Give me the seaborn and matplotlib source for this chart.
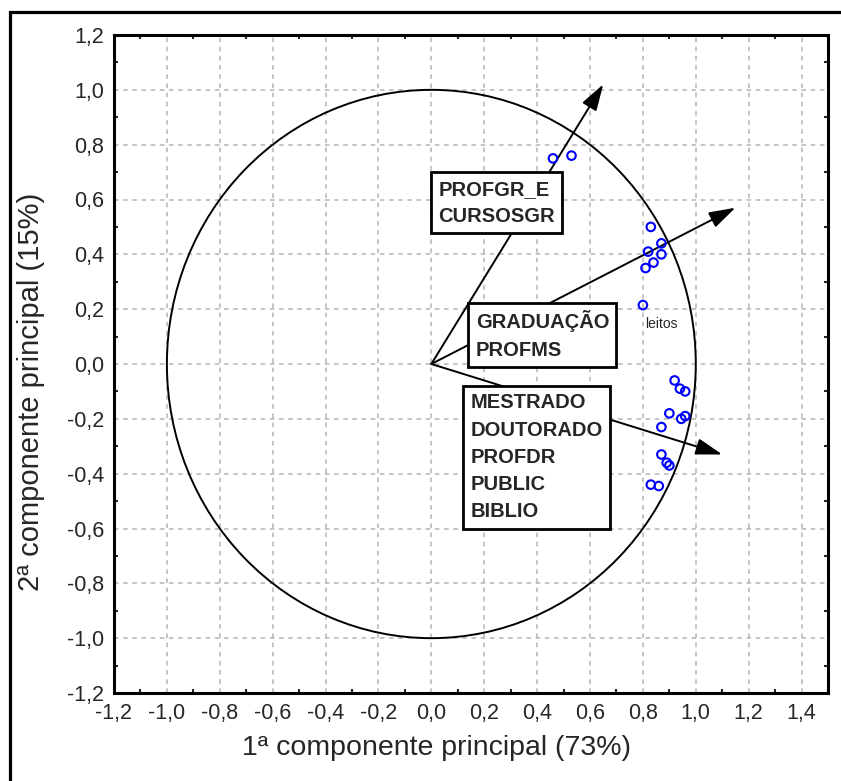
import numpy as np
import pandas as pd
import matplotlib
matplotlib.use("Agg")
import matplotlib.pyplot as plt
from matplotlib.patches import Circle, Rectangle
from matplotlib.ticker import MultipleLocator, FixedLocator
import seaborn as sns

# Loadings of the variables on the first two principal components
pc1 = [0.46, 0.53, 0.83, 0.87, 0.82, 0.87, 0.84, 0.81, 0.80,
       0.92, 0.94, 0.96, 0.90, 0.96, 0.945, 0.87, 0.87, 0.89, 0.90, 0.83, 0.86]
pc2 = [0.75, 0.76, 0.50, 0.44, 0.41, 0.40, 0.37, 0.35, 0.215,
       -0.06, -0.09, -0.10, -0.18, -0.19, -0.20, -0.23, -0.33, -0.36, -0.37, -0.44, -0.445]

# Group direction vectors and their labels
arrow_x = [0.65, 1.15, 1.10]
arrow_y = [1.02, 0.57, -0.33]
group_labels = ["PROFGR_E\nCURSOSGR", "GRADUAÇÃO\nPROFMS",
                "MESTRADO\nDOUTORADO\nPROFDR\nPUBLIC\nBIBLIO"]
label_x = [0.248, 0.420, 0.397]
label_y = [0.588, 0.106, -0.341]

point_label = "leitos"
point_label_xy = (0.869, 0.146)

xticks = np.round(np.arange(-1.2, 1.41, 0.2), 1)
yticks = np.round(np.arange(-1.2, 1.21, 0.2), 1)
xlabel = "1ª componente principal (73%)"
ylabel = "2ª componente principal (15%)"

sns.set_style("white")
plt.rcParams["font.family"] = ["Liberation Sans", "DejaVu Sans"]

fig = plt.figure(figsize=(8.41, 7.81), dpi=100)
ax = fig.add_axes([114 / 841, 1 - 693 / 781, (828 - 114) / 841, (693 - 35) / 781])

# outer frame of the figure
fig.patches.append(Rectangle((10 / 841, -0.1), 1.2, 1 - 12 / 781 + 0.1,
                             transform=fig.transFigure, fill=False,
                             lw=2.3, ec="black", zorder=0))

ax.set_xlim(-1.2, 1.5)
ax.set_ylim(-1.2, 1.2)

ax.xaxis.set_major_locator(FixedLocator(xticks))
ax.yaxis.set_major_locator(FixedLocator(yticks))
ax.xaxis.set_minor_locator(MultipleLocator(0.1))
ax.yaxis.set_minor_locator(MultipleLocator(0.1))
fmt = lambda v: f"{v:.1f}".replace(".", ",").replace("-0,0", "0,0")
ax.set_xticklabels([fmt(v) for v in xticks], fontsize=15.5)
ax.set_yticklabels([fmt(v) for v in yticks], fontsize=15.5)
ax.tick_params(which="major", direction="out", length=3, width=1.2, pad=4)
ax.tick_params(which="minor", direction="in", length=3, width=1.5,
               top=True, right=True, bottom=True, left=True)

ax.grid(True, which="major", color="#b4b4b4", ls=(0, (3, 3)), lw=1.1)
for s in ax.spines.values():
    s.set_linewidth(2.2)
    s.set_color("black")

# unit circle
ax.add_patch(Circle((0, 0), 1.0, fill=False, ec="black", lw=1.4, zorder=2))

# direction arrows
for x, y in zip(arrow_x, arrow_y):
    ax.annotate("", xy=(x, y), xytext=(0, 0),
                arrowprops=dict(arrowstyle="-|>,head_length=0.9,head_width=0.28",
                                mutation_scale=18, lw=1.4, color="black",
                                shrinkA=0, shrinkB=0),
                zorder=3)

# group labels in boxes
for t, x, y in zip(group_labels, label_x, label_y):
    ax.text(x, y, t, ha="center", va="center", multialignment="left",
            fontsize=14.5, fontweight="bold", linespacing=1.55, zorder=5,
            bbox=dict(boxstyle="square,pad=0.36", fc="white", ec="black", lw=2))

df = pd.DataFrame({"pc1": pc1, "pc2": pc2})
sns.scatterplot(data=df, x="pc1", y="pc2", ax=ax, marker="o", s=38,
                facecolor="none", edgecolor="blue", linewidth=1.5, zorder=4)

ax.text(*point_label_xy, point_label, ha="center", va="center", fontsize=10, zorder=5)

ax.set_xlabel(xlabel, fontsize=20.5)
ax.set_ylabel(ylabel, fontsize=21)
ax.xaxis.set_label_coords(0.451, -0.064)
ax.yaxis.set_label_coords(-0.096, 0.457)

fig.savefig("out.png", dpi=100)
